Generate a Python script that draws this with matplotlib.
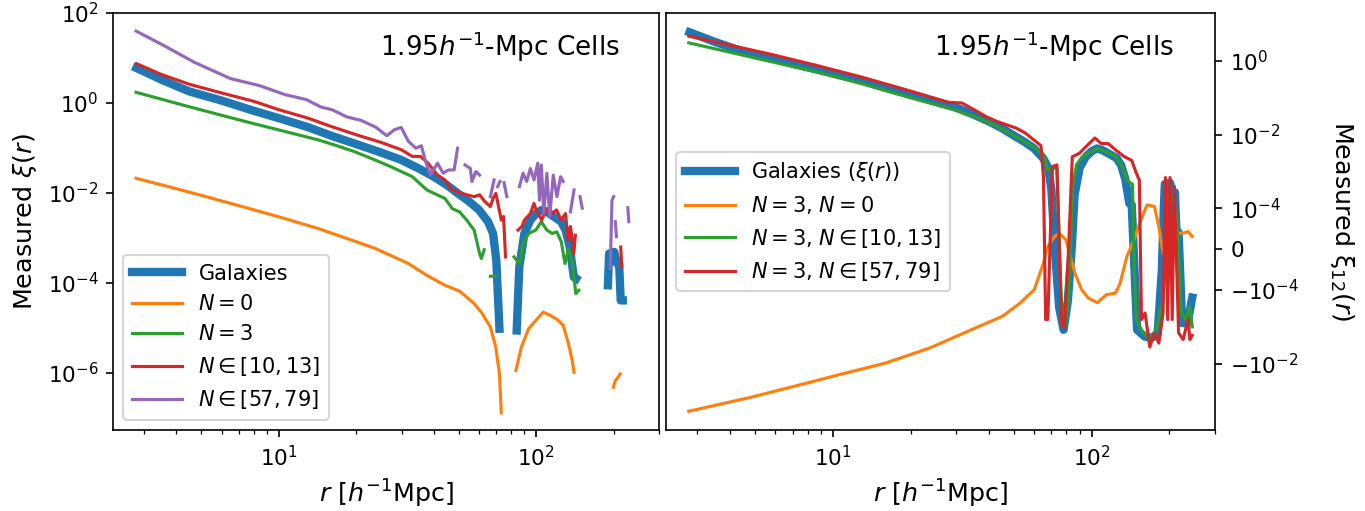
import numpy as np
import matplotlib
matplotlib.use("Agg")
import matplotlib.pyplot as plt
from matplotlib.ticker import NullLocator, FixedLocator

nan = np.nan

# ---------------- Galaxies xi(r) (shared by both panels) ----------------
r_gal = [2.8, 3.5, 4.5, 6, 8, 10, 13, 16, 20, 25, 30, 35, 40, 45, 50, 55, 60, 65, 68, 70,
         72, 75, 78, 81, 84, 86, 90, 95, 100, 105, 110, 115, 120, 125, 130, 135, 140, 143,
         150, 160, 170, 180, 187, 190, 192, 201, 206, 210, 213, 217, 224, 235, 245]
xi_gal = [6.0, 3.3, 1.8, 1.13, 0.67, 0.46, 0.29, 0.187, 0.122, 0.079, 0.054, 0.035, 0.023,
          0.015, 0.0095, 0.0064, 0.0042, 0.0023, 1.26e-3, 3.2e-4, 9.6e-6, -3e-4, -1.2e-3,
          -2e-4, 8.8e-6, 2.3e-4, 1.26e-3, 2.5e-3, 3.5e-3, 4.2e-3, 3.8e-3, 3.2e-3, 2.7e-3,
          2.3e-3, 1.5e-3, 6.3e-4, 1.35e-4, 1.25e-4, -1.2e-3, -1.8e-3, -2.0e-3, -1.6e-3, -5e-5,
          8.9e-5, 4.5e-4, 4.9e-4, 2.7e-4, 2.7e-4, 4.1e-5, 4.1e-5, -7.8e-4, -8e-4, -1.6e-4]

# ---------------- Left panel: auto-correlations ----------------
r_n0 = [2.79, 3.85, 5.34, 7.39, 10.2, 14.2, 19.6, 23.8, 27.2, 31.9, 37.6, 44.2, 50.4, 57.4,
        61.2, 66.4, 69.7, 72.0, 73.2, 78, 83.4, 87.5, 93.4, 99.7, 106.4, 113.5, 121.2, 127.3,
        133.6, 138.0, 140.3, 170, 199.4, 202.8, 207.5, 212]
xi_n0 = [2.12e-2, 1.32e-2, 8.0e-3, 4.8e-3, 2.86e-3, 1.63e-3, 8.6e-4, 5.8e-4, 4.1e-4, 2.7e-4,
         1.48e-4, 8.9e-5, 6.6e-5, 3.5e-5, 2.25e-5, 1.05e-5, 3.7e-6, 9.5e-7, 1.3e-7, nan,
         1.13e-6, 3.7e-6, 9.6e-6, 1.47e-5, 2.25e-5, 1.9e-5, 1.52e-5, 1.14e-5, 4.4e-6, 1.9e-6,
         1.03e-6, nan, 4.8e-7, 6.7e-7, 7.9e-7, 9.5e-7]

r_n3 = [2.79, 4.54, 7.39, 10.2, 14.2, 16.7, 19.6, 23.1, 27.2, 33.0, 37.6, 41.4, 44.2, 47.2,
        50.4, 53.7, 57.4, 60.3, 61.2, 62.8, 64.5, 66.4, 69.7, 76, 82.0, 86.1, 88.9, 93.4,
        99.7, 104.7, 110, 115.4, 120.3, 125.2, 129.4, 133.6, 138, 142.6, 146.5]
xi_n3 = [1.73, 0.81, 0.39, 0.245, 0.152, 0.114, 0.0836, 0.0573, 0.0386, 0.0231, 0.0117,
         9.0e-3, 7.6e-3, 4.5e-3, 3.8e-3, 2.5e-3, 1.5e-3, 4.5e-4, 3.5e-4, 5.5e-4, nan, 1.41e-4,
         1.41e-4, nan, 3.8e-4, 2.7e-4, 7.5e-4, 1.26e-3, 1.5e-3, 2.3e-3, 1.5e-3, 1.26e-3,
         1.37e-3, 8.2e-4, 2.7e-4, 5.8e-4, 2.7e-4, 5.8e-5, 6.9e-5]

r_n10 = [2.8, 3.5, 4.5, 6, 8, 10, 13, 16, 20, 25, 30, 33.0, 35.5, 38, 41.4, 44.2, 47.2, 50.4,
         53.7, 57.4, 60.3, 63.2, 66.4, 68.0, 69.7, 71.0, 73.2, 74.7, 76.0, 80, 85, 88, 90, 95,
         98, 100, 105, 110, 115, 120, 125, 130, 133, 136, 140, 142, 180, 213, 215]
xi_n10 = [7.5, 4.3, 2.6, 1.67, 1.09, 0.71, 0.46, 0.30, 0.197, 0.133, 0.091, 0.065, 0.065,
          0.046, 0.025, 0.0195, 0.0117, 0.0102, 0.0091, 0.0083, 0.0091, 0.0064, 0.0050,
          0.0076, 0.0098, 0.0059, 0.0025, 0.0030, 3.8e-4, nan, 1.5e-3, 1.8e-3, 2.5e-3, 3.5e-3,
          5.9e-3, 4.2e-3, 2.5e-3, 4.5e-3, 3.5e-3, 4.2e-3, 2.5e-3, 3.5e-3, 8.9e-4, 1.8e-3,
          4.5e-4, 1.15e-3, nan, 6.3e-4, 2.3e-4]

r_n57 = [2.79, 3.61, 4.69, 6.49, 8.41, 10.6, 12.8, 14.6, 16.1, 18.4, 20.9, 23.8, 26.3, 28.1,
         29.9, 31.9, 34.1, 35.8, 37.0, 38.8, 41.4, 43.5, 45.7, 48.0, 49.5, 51.0, 52.9, 55.5,
         56.3, 58.3, 60.3, 63.0, 66.4, 68.6, 69.7, 70.8, 72.3, 73.5, 75.0, 76.9, 80.0, 86.1,
         88.9, 91.9, 94.9, 98.1, 101.4, 103.0, 104.7, 107.1, 110.0, 112.9, 116.5, 120.4,
         124.4, 127.3, 131.0, 135.8, 140.3, 145.0, 148.0, 151.0, 175.0, 194.0, 197.0, 200.0,
         202.0, 203.0, 205.0, 215.0, 227.0, 229.0]
xi_n57 = [39.7, 18.4, 8.07, 3.49, 2.44, 1.53, 1.19, 0.81, 0.71, 0.49, 0.41, 0.29, 0.187,
          0.254, 0.286, 0.14, 0.099, 0.112, 0.055, 0.025, 0.046, 0.0275, 0.0325, 0.0325,
          0.099, nan, 0.042, 0.035, 0.018, 0.030, 0.025, nan, 0.0083, 0.0195, nan, 0.0138,
          0.018, nan, 0.017, 0.0083, nan, 0.0138, 0.0275, 0.018, 0.035, 0.0195, 0.046, 0.0069,
          0.042, 0.0035, 0.0275, 0.0030, 0.025, 0.0083, 0.023, 0.018, nan, 0.0038, 0.0117,
          nan, 0.0083, 0.0046, nan, 2.1e-4, 0.0069, 0.0083, nan, 2.3e-3, 1.07e-3, nan,
          4.7e-3, 2.3e-3]

# ---------------- Right panel: cross-correlations with N=3 ----------------
r_x0 = [2.78, 4.78, 7.14, 10.7, 16.0, 23.8, 35.6, 45.4, 53.2, 60.1, 65.2, 67.8, 72.0, 75.0,
        79.6, 82.8, 86.2, 91.6, 97.3, 105.4, 114, 124, 129, 137, 146, 155, 164, 175, 182, 189,
        197, 209, 217, 226, 236, 245]
xi_x0 = [-0.195, -0.083, -0.0407, -0.0195, -0.0096, -0.0037, -1.07e-3, -5.1e-4, -2.2e-4,
         -9.9e-5, -3.4e-5, 6.5e-6, 3.1e-5, 3.9e-5, 2.3e-5, -1.8e-5, -5.8e-5, -9.9e-5,
         -1.66e-4, -2.2e-4, -1.34e-4, -1.2e-4, -8.3e-5, -1.8e-5, 2.3e-5, 7.1e-5, 1.23e-4,
         1.12e-4, 5.5e-5, -9.9e-6, 6.5e-6, 2.3e-5, 3.9e-5, 3.9e-5, 4.3e-5, 3.1e-5]

r_x10 = [2.78, 3.9, 5.8, 8.7, 13.0, 19.5, 29.2, 35.6, 43.6, 53.2, 60.1, 65.2, 67.8, 70.6,
         73.5, 76.5, 78.7, 81.5, 84.5, 87.5, 91.6, 97.3, 105.4, 114, 124, 131.5, 137, 141,
         144, 146, 149, 158, 168, 178, 189, 201, 206, 213, 222, 231, 240, 245]
xi_x10 = [3.1, 1.8, 0.95, 0.5, 0.24, 0.105, 0.048, 0.030, 0.016, 0.0075, 0.0045, 2.8e-3,
          1.1e-3, 1.2e-3, 1.2e-3, -2e-4, -1.0e-3, -2e-4, 3.9e-4, 1.5e-3, 2.4e-3, 3.1e-3,
          4.2e-3, 3.4e-3, 2.5e-3, 1.35e-3, 6e-4, 4.9e-4, 4.5e-4, -4.2e-5, -6.3e-4, -1.45e-3,
          -2.1e-3, -1.2e-3, -1.8e-4, 2.0e-4, 2.1e-4, 8.8e-5, -4.2e-4, -6.3e-4, -2.75e-4,
          -1.0e-3]

r_x57 = [2.78, 3.9, 5.8, 8.7, 13.0, 19.5, 28.0, 31.6, 35.6, 39.4, 43.6, 51.2, 55.5, 60.1,
         63.8, 65.2, 66.5, 67.8, 70.6, 73.5, 76.5, 78.5, 81.2, 84.3, 89.8, 95.2, 103, 109,
         116, 124, 134, 143, 149, 153, 156, 161, 168, 175, 182, 189, 193, 197, 201, 205, 209,
         217, 226, 236, 240, 245]
xi_x57 = [4.7, 2.8, 1.5, 0.75, 0.36, 0.16, 0.075, 0.072, 0.045, 0.030, 0.022, 0.015, 0.011,
          0.0070, 5.0e-3, 7.2e-4, -6.3e-4, -6.3e-4, 1.35e-3, 1.5e-3, -7.8e-4, -1.1e-3,
          -2.6e-5, 2.5e-3, 3.1e-3, 4.7e-3, 8.1e-3, 5.7e-3, 5.7e-3, 3.8e-3, 2.5e-3, 2.0e-3,
          8.9e-4, 5.9e-4, -6.3e-4, -4.2e-4, -3.5e-3, -1.45e-3, -2.75e-3, -4.2e-4, 6.8e-4,
          -6.3e-4, 6.8e-4, -6.3e-4, 3.9e-4, -1.45e-3, -2.2e-3, -6.3e-4, -2.2e-3, -1.7e-3]

left_labels = ["Galaxies", r"$N = 0$", r"$N = 3$", r"$N \in [10, 13]$", r"$N \in [57, 79]$"]
right_labels = [r"Galaxies ($\xi(r)$)", r"$N = 3$, $N = 0$", r"$N = 3$, $N \in [10, 13]$",
                r"$N = 3$, $N \in [57, 79]$"]
cell_text = r"$1.95h^{-1}$-Mpc Cells"

# ---------------- Figure ----------------
W, H = 1365, 511
DPI = 150
fig = plt.figure(figsize=(W / DPI, H / DPI), dpi=DPI)
ax1 = fig.add_axes([113 / W, (H - 430) / H, 546 / W, 417 / H])
ax2 = fig.add_axes([666 / W, (H - 430) / H, 549 / W, 417 / H])

GAL_LW = 4.0
LEG_FS = 10
LAB_FS = 12.2
TXT_FS = 12.6

# Left panel
ax1.plot(r_gal, xi_gal, color="C0", lw=GAL_LW, label=left_labels[0])
ax1.plot(r_n0, xi_n0, color="C1", label=left_labels[1])
ax1.plot(r_n3, xi_n3, color="C2", label=left_labels[2])
ax1.plot(r_n10, xi_n10, color="C3", label=left_labels[3])
ax1.plot(r_n57, xi_n57, color="C4", label=left_labels[4])
ax1.set_xscale("log")
ax1.set_yscale("log", nonpositive="mask")
ax1.set_xlim(2.27, 300)
ax1.set_ylim(5.4e-8, 1.0e2)
ax1.yaxis.set_major_locator(FixedLocator([1e-6, 1e-4, 1e-2, 1e0, 1e2]))
ax1.yaxis.set_minor_locator(NullLocator())
ax1.set_xlabel(r"$r$ [$h^{-1}$Mpc]", fontsize=LAB_FS)
ax1.set_ylabel(r"Measured $\xi(r)$", fontsize=LAB_FS)
ax1.tick_params(labelsize=10.3)
ax1.legend(loc="lower left", fontsize=LEG_FS, handlelength=2.4)
ax1.text(0.928, 0.96, cell_text, transform=ax1.transAxes, ha="right", va="top",
         fontsize=TXT_FS)

# Right panel
ax2.plot(r_gal, xi_gal, color="C0", lw=GAL_LW, label=right_labels[0])
ax2.plot(r_x0, xi_x0, color="C1", label=right_labels[1])
ax2.plot(r_x10, xi_x10, color="C2", label=right_labels[2])
ax2.plot(r_x57, xi_x57, color="C3", label=right_labels[3])
ax2.set_xscale("log")
ax2.set_yscale("symlog", linthresh=1e-4)
ax2.set_xlim(2.27, 300)
ax2.set_ylim(-0.63, 20)
ax2.yaxis.set_major_locator(FixedLocator([-1e-2, -1e-4, 0, 1e-4, 1e-2, 1e0]))
ax2.yaxis.set_minor_locator(NullLocator())
ax2.yaxis.tick_right()
ax2.yaxis.set_label_position("right")
ax2.set_xlabel(r"$r$ [$h^{-1}$Mpc]", fontsize=LAB_FS)
ax2.set_ylabel(r"Measured ξ$_{12}(r)$", fontsize=LAB_FS, rotation=270, va="bottom",
               labelpad=14)
ax2.tick_params(labelsize=10.3)
ax2.legend(loc="center left", fontsize=LEG_FS, handlelength=2.4)
ax2.text(0.925, 0.96, cell_text, transform=ax2.transAxes, ha="right", va="top",
         fontsize=TXT_FS)

fig.savefig("out.png", dpi=DPI)
